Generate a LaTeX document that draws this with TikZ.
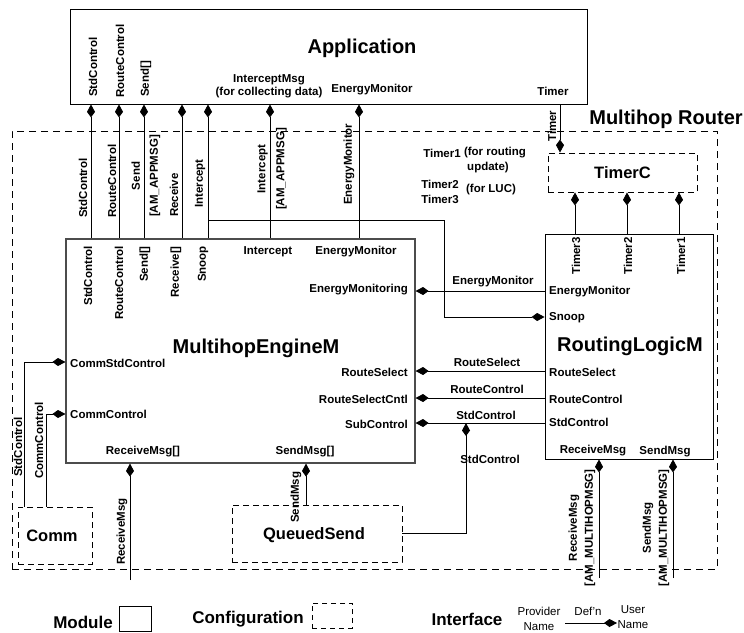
\documentclass[tikz,border=0pt]{standalone}
\usepackage{fontspec}
\setmainfont{Liberation Sans}
\usetikzlibrary{arrows.meta}
\begin{document}
\begin{tikzpicture}[x=1pt,y=-1pt,
  lbl/.style={font=\fontsize{11.5}{15}\selectfont\bfseries, inner sep=0pt},
  rlbl/.style={lbl, rotate=90},
  ttl/.style={font=\fontsize{20}{24}\selectfont\bfseries, inner sep=0pt},
  mid/.style={font=\fontsize{16.5}{20}\selectfont\bfseries, inner sep=0pt},
  plainlbl/.style={font=\fontsize{11.5}{15}\selectfont, inner sep=0pt},
  modbox/.style={draw=black, line width=0.8pt, inner sep=0pt},
  cfgbox/.style={draw=black, line width=0.8pt, dash pattern=on 6pt off 4pt, inner sep=0pt},
  conn/.style={draw=black, line width=0.9pt, -{Kite[length=13pt,width=8pt,inset=5.5pt]}},
]
\useasboundingbox (0,0) rectangle (744,632);

% ---------- boxes ----------
\node[modbox, minimum width=517pt, minimum height=95pt] (app) at (328.5,56.5) {};
\node[ttl] (apptitle) at (362,48) {Application};
\node[cfgbox, dash pattern=on 7pt off 5pt, minimum width=705pt, minimum height=438pt] (router) at (364.5,350) {};
\node[ttl] (routertitle) at (666,119) {Multihop Router};
\node[cfgbox, mid, minimum width=149pt, minimum height=39pt] (timerc) at (622.5,172.5) {TimerC};
\node[modbox, draw=black!70, line width=1.1pt, minimum width=349pt, minimum height=224pt] (mem) at (240.5,351) {};
\node[ttl] (memtitle) at (256,348) {MultihopEngineM};
\node[modbox, minimum width=168pt, minimum height=225pt] (rlm) at (629,346.5) {};
\node[ttl] (rlmtitle) at (630,346) {RoutingLogicM};
\node[cfgbox, minimum width=74pt, minimum height=57pt] (comm) at (55,535.5) {};
\node[mid] (commtitle) at (52,536) {Comm};
\node[cfgbox, minimum width=170pt, minimum height=57pt] (qsend) at (317,533.5) {};
\node[mid] (qsendtitle) at (314,535) {QueuedSend};

% ---------- labels inside Application ----------
\node[rlbl, anchor=west] (ap1) at (93,97) {StdControl};
\node[rlbl, anchor=west] (ap2) at (120,98) {RouteControl};
\node[rlbl, anchor=west] (ap3) at (146,97) {Send[]};
\node[lbl, font=\fontsize{11.5}{13}\selectfont\bfseries, align=center] (ap4) at (269,86.5) {InterceptMsg\\(for collecting data)};
\node[lbl] (ap5) at (372,90) {EnergyMonitor};
\node[lbl] (ap6) at (553,91) {Timer};

% ---------- labels between Application and MultihopEngineM ----------
\node[rlbl, anchor=west] (c1) at (83,218) {StdControl};
\node[rlbl, anchor=west] (c2) at (112,218) {RouteControl};
\node[rlbl, align=center] (c3) at (146,176) {Send\\[3pt]{[AM\_APPMSG]}};
\node[rlbl, anchor=west] (c4) at (174,217) {Receive};
\node[rlbl, anchor=west] (c5) at (200,208) {Intercept};
\node[rlbl, align=center] (c6) at (272,169) {Intercept\\[4pt]{[AM\_APPMSG]}};
\node[rlbl, anchor=west] (c7) at (349,205) {EnergyMonitor};
\node[rlbl, anchor=west] (c8) at (552,142) {Timer};

\node[lbl] (t1) at (442,153) {Timer1};
\node[lbl] (t1b) at (495,153) {(for routing};
\node[lbl] (t1c) at (488,168) {update)};
\node[lbl] (t2) at (440,184) {Timer2};
\node[lbl] (t3) at (440,199) {Timer3};
\node[lbl] (t4) at (491,190) {(for LUC)};

% ---------- labels inside MultihopEngineM ----------
\node[rlbl, anchor=east] (m1) at (88,246) {StdControl};
\node[rlbl, anchor=east] (m2) at (119,246) {RouteControl};
\node[rlbl, anchor=east] (m3) at (145,246) {Send[]};
\node[rlbl, anchor=east] (m4) at (176,246) {Receive[]};
\node[rlbl, anchor=east] (m5) at (203,246) {Snoop};
\node[lbl] (m6) at (268,252) {Intercept};
\node[lbl] (m7) at (356,252) {EnergyMonitor};
\node[lbl, anchor=east] (m8) at (408,290) {EnergyMonitoring};
\node[lbl, anchor=east] (m9) at (408,372) {RouteSelect};
\node[lbl, anchor=east] (m10) at (408,399) {RouteSelectCntl};
\node[lbl, anchor=east] (m11) at (408,424) {SubControl};
\node[lbl, anchor=west] (m12) at (70,363) {CommStdControl};
\node[lbl, anchor=west] (m13) at (70,414) {CommControl};
\node[lbl] (m14) at (143,452) {ReceiveMsg[]};
\node[lbl] (m15) at (305,452) {SendMsg[]};

% ---------- labels inside RoutingLogicM ----------
\node[lbl, anchor=west] (r1) at (549,292) {EnergyMonitor};
\node[lbl, anchor=west] (r2) at (549,318) {Snoop};
\node[lbl, anchor=west] (r3) at (549,372) {RouteSelect};
\node[lbl, anchor=west] (r4) at (549,399) {RouteControl};
\node[lbl, anchor=west] (r5) at (549,422) {StdControl};
\node[lbl] (r6) at (593,451) {ReceiveMsg};
\node[lbl] (r7) at (665,452) {SendMsg};
\node[rlbl, anchor=east] (r8) at (576,237) {Timer3};
\node[rlbl, anchor=east] (r9) at (628,237) {Timer2};
\node[rlbl, anchor=east] (r10) at (681,237) {Timer1};

% ---------- labels between the modules ----------
\node[lbl] (h1) at (493,282) {EnergyMonitor};
\node[lbl] (h2) at (487,362) {RouteSelect};
\node[lbl] (h3) at (487,389) {RouteControl};
\node[lbl] (h4) at (486,415) {StdControl};
\node[lbl] (h5) at (490,459) {StdControl};

% ---------- bottom labels ----------
\node[rlbl, anchor=west] (b1) at (18,477) {StdControl};
\node[rlbl, anchor=west] (b2) at (39,479) {CommControl};
\node[rlbl, anchor=west] (b3) at (122,565) {ReceiveMsg};
\node[rlbl, anchor=west] (b4) at (296,523) {SendMsg};
\node[rlbl, align=center, font=\fontsize{11.5}{16}\selectfont\bfseries] (b5) at (582,528) {ReceiveMsg\\{[AM\_MULTIHOPMSG]}};
\node[rlbl, align=center, font=\fontsize{11.5}{16}\selectfont\bfseries] (b6) at (656,528) {SendMsg\\{[AM\_MULTIHOPMSG]}};

% ---------- connectors ----------
\draw[conn] (91,0 |- mem.north) -- (91,0 |- app.south);
\draw[conn] (119,0 |- mem.north) -- (119,0 |- app.south);
\draw[conn] (144,0 |- mem.north) -- (144,0 |- app.south);
\draw[conn] (182,0 |- mem.north) -- (182,0 |- app.south);
\draw[conn] (208,0 |- mem.north) -- (208,0 |- app.south);
\draw[conn] (270,0 |- mem.north) -- (270,0 |- app.south);
\draw[conn] (359,0 |- mem.north) -- (359,0 |- app.south);

\coordinate (isplit) at (208,220);
\draw[conn] (isplit) -- (444,220) -- (444,317) -- (rlm.west |- 0,317);

\draw[conn] (560,0 |- app.south) -- (560,0 |- timerc.north);
\draw[conn] (575,0 |- rlm.north) -- (575,0 |- timerc.south);
\draw[conn] (627,0 |- rlm.north) -- (627,0 |- timerc.south);
\draw[conn] (679,0 |- rlm.north) -- (679,0 |- timerc.south);

\draw[conn] (rlm.west |- 0,291) -- (mem.east |- 0,291);
\draw[conn] (rlm.west |- 0,371) -- (mem.east |- 0,371);
\draw[conn] (rlm.west |- 0,398) -- (mem.east |- 0,398);
\draw[conn] (rlm.west |- 0,423) -- (mem.east |- 0,423);

\coordinate (qsc) at (466,423);
\draw[conn] (qsend.east) -| (qsc);

\draw[conn] (24,0 |- comm.north) |- (mem.west |- 0,362);
\draw[conn] (46,0 |- comm.north) |- (mem.west |- 0,414);

\coordinate (rmsg) at (130,580);
\draw[conn] (rmsg) -- (rmsg |- mem.south);
\draw[conn] (306,0 |- qsend.north) -- (306,0 |- mem.south);

\coordinate (rlmr) at (599,578);
\draw[conn] (rlmr) -- (rlmr |- rlm.south);
\coordinate (rlms) at (673,578);
\draw[conn] (rlms) -- (rlms |- rlm.south);

% ---------- legend ----------
\node[mid, font=\fontsize{17}{20}\selectfont\bfseries] (lg1) at (83,622) {Module};
\node[modbox, minimum width=32pt, minimum height=25pt] (legmod) at (135,618.5) {};
\node[mid, font=\fontsize{17}{20}\selectfont\bfseries] (lg2) at (248,619) {Configuration};
\node[cfgbox, dash pattern=on 5pt off 4pt, minimum width=40pt, minimum height=25pt] (legcfg) at (332,615.5) {};
\node[mid, font=\fontsize{17}{20}\selectfont\bfseries] (lg3) at (467,619) {Interface};
\node[plainlbl, align=center] (lg4) at (539,618.5) {Provider\\Name};
\node[plainlbl] (lg5) at (588,611) {Def'n};
\node[plainlbl, align=center] (lg6) at (633,617.5) {User\\Name};
\coordinate (lega) at (565,623);
\coordinate (legb) at (617,623);
\draw[conn] (lega) -- (legb);
\end{tikzpicture}
\end{document}
